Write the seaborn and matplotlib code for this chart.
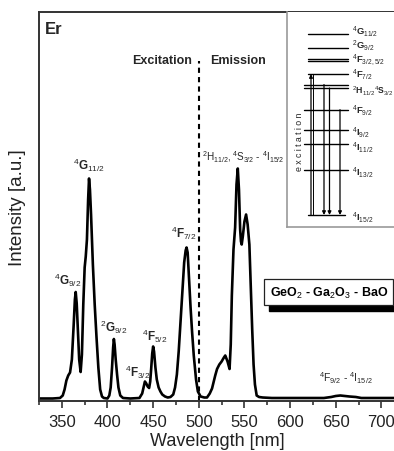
import numpy as np
import pandas as pd
import matplotlib
matplotlib.use('Agg')
import matplotlib.pyplot as plt
import seaborn as sns
from matplotlib import transforms

# ---- spectrum ----
wavelength = [325, 340, 348, 351, 353, 355, 357, 359, 361, 363, 364.3, 365.2, 366.3, 367.5, 369, 370.6,
              372, 373.5, 375, 376.2, 377.5, 378.8, 379.8, 380.8, 382, 384, 386, 388, 390, 392, 394, 396,
              400, 402, 403.5, 405, 406.2, 407, 407.8, 409, 410.5, 412, 414, 417, 425, 435, 438, 440,
              441, 442.5, 444, 445.6, 446.8, 447.8, 449, 450, 451, 452.5, 454, 456, 458, 460, 463, 466,
              469, 472, 474, 476, 478, 480, 482, 484, 485.6, 486.6, 487.8, 489.5, 491, 492.7, 494.5, 497,
              499, 502, 506, 509, 512, 514.5, 518, 520, 522.5, 525, 527.5, 529, 531.5, 533.7, 535, 536.2,
              538, 539.8, 541.3, 542.7, 544, 545.3, 546.2, 547, 548.2, 550, 551.8, 553.5, 555.4, 557,
              558.5, 560, 561.5, 563.4, 566, 570, 580, 600, 620, 637, 645, 650, 655, 660, 665, 672, 678,
              690, 700, 715]
intensity = [1, 1, 1.5, 4, 10, 19, 24, 27, 40, 75, 100, 107.5, 96, 70, 40, 27.5,
             45, 95, 132, 143, 160, 200, 221, 210, 185, 135, 95, 62, 32, 10, 3, 1.5,
             1, 4, 12, 32, 52, 60.5, 55, 40, 25, 12, 4, 1.5, 1, 1.5, 6, 14,
             18, 16, 13, 11.5, 18, 30, 46, 53, 48, 32, 20, 12, 8, 5, 3, 2,
             2.5, 5, 12, 25, 48, 78, 108, 137, 149, 152, 147, 118, 92, 67, 44, 20,
             8, 3, 2, 2, 6, 11, 24, 30.5, 35, 38, 42, 44, 38, 30.5, 55, 104,
             150, 172, 215, 231, 210, 170, 158, 155, 163, 178, 185, 175, 155, 110,
             70, 35, 15, 4, 2.5, 2, 1.5, 1.5, 1.5, 1.5, 2.5, 3.5, 4, 3.5, 3, 2.5, 1.5,
             1.5, 1.5, 1.5]

xticks_major = [350, 400, 450, 500, 550, 600, 650, 700]
xticks_minor = [325, 375, 425, 475, 525, 575, 625, 675]

# ---- energy levels of Er3+ (10^3 cm^-1) ----
level_names = ['4I15/2', '4I13/2', '4I11/2', '4I9/2', '4F9/2', '4S3/2', '2H11/2',
               '4F7/2', '4F5/2', '4F3/2', '2G9/2', '4G11/2']
level_energy = [0.0, 6.5, 10.2, 12.2, 15.1, 18.2, 18.7, 20.2, 22.1, 22.4, 23.9, 26.0]
level_labels = [r'$^{4}\mathbf{I}_{15/2}$', r'$^{4}\mathbf{I}_{13/2}$', r'$^{4}\mathbf{I}_{11/2}$',
                r'$^{4}\mathbf{I}_{9/2}$', r'$^{4}\mathbf{F}_{9/2}$',
                r'$^{2}\mathbf{H}_{11/2}{}^{4}\mathbf{S}_{3/2}$', r'$^{4}\mathbf{F}_{7/2}$',
                r'$^{4}\mathbf{F}_{3/2,5/2}$', r'$^{2}\mathbf{G}_{9/2}$', r'$^{4}\mathbf{G}_{11/2}$']
level_label_energy = [-0.3, 6.2, 9.8, 11.9, 15.1, 17.8, 20.2, 22.3, 24.4, 26.4]

df = pd.DataFrame({'Wavelength': wavelength, 'Intensity': intensity})

sns.set_theme(style='ticks')
plt.rcParams['font.family'] = ['Liberation Sans', 'DejaVu Sans']
plt.rcParams['mathtext.fontset'] = 'custom'
plt.rcParams['mathtext.rm'] = 'Liberation Sans'
plt.rcParams['mathtext.bf'] = 'Liberation Sans:bold'
plt.rcParams['mathtext.it'] = 'Liberation Sans:italic'
plt.rcParams['mathtext.sf'] = 'Liberation Sans'

W, H = 394, 452
fig = plt.figure(figsize=(W / 100, H / 100), dpi=100)
ax_l, ax_b, ax_t = 39, 401.5, 13
ax = fig.add_axes([ax_l / W, (H - ax_b) / H, 356.1 / W, (ax_b - ax_t) / H])

sns.lineplot(data=df, x='Wavelength', y='Intensity', ax=ax, color='black', lw=1.9,
             estimator=None, sort=False)

ax.set_xlim(325, 715)
ax.set_ylim(-1, 387.5)
ax.set_yticks([])
ax.set_xticks(xticks_major)
ax.set_xticks(xticks_minor, minor=True)
ax.tick_params(axis='x', which='major', direction='out', length=5, width=1.2,
               labelsize=12, colors='#333', labelcolor='#222', pad=5)
ax.tick_params(axis='x', which='minor', direction='out', length=3, width=1.2, colors='#333')
for s in ['left', 'bottom', 'top']:
    ax.spines[s].set_color('#333')
    ax.spines[s].set_linewidth(1.4)
ax.spines['right'].set_visible(False)
ax.set_xlabel('Wavelength [nm]', fontsize=13, color='#222', labelpad=2)
ax.set_ylabel('Intensity [a.u.]', fontsize=13.5, color='#222', labelpad=9)

# dashed separator
ax.plot([500, 500], [-1, 338.5], ls=(0, (2.5, 2)), color='black', lw=1.5)

ax.text(331.7, 370.5, 'Er', fontsize=12, fontweight='bold', ha='left', va='center')
ax.text(492.7, 339.5, 'Excitation', fontsize=9, fontweight='bold', ha='right', va='center')
ax.text(512.4, 339.5, 'Emission', fontsize=9, fontweight='bold', ha='left', va='center')

pk = dict(fontsize=8.5, ha='center', va='center')
ax.text(379.9, 235.5, r'$^{4}\mathbf{G}_{11/2}$', **pk)
ax.text(356.4, 120.5, r'$^{4}\mathbf{G}_{9/2}$', **pk)
ax.text(406.7, 73.5, r'$^{2}\mathbf{G}_{9/2}$', **pk)
ax.text(433.6, 28.5, r'$^{4}\mathbf{F}_{3/2}$', **pk)
ax.text(452.2, 64.5, r'$^{4}\mathbf{F}_{5/2}$', **pk)
ax.text(484.0, 167.5, r'$^{4}\mathbf{F}_{7/2}$', **pk)
ax.text(549.2, 243.5, r'$^{2}\mathrm{H}_{11/2},{}^{4}\mathrm{S}_{3/2}$ - $^{4}\mathrm{I}_{15/2}$',
        fontsize=7.2, ha='center', va='center')
ax.text(661.4, 22.5, r'$^{4}\mathrm{F}_{9/2}$ - $^{4}\mathrm{I}_{15/2}$',
        fontsize=7.5, ha='center', va='center')

# glass composition box with shadow
comp = r'GeO$_2$ - Ga$_2$O$_3$ - BaO'
shadow_tr = transforms.offset_copy(ax.transData, fig=fig, x=5, y=-6, units='dots')
ax.text(642.2, 107.5, comp, fontsize=9, fontweight='bold', ha='center', va='center',
        color='black', transform=shadow_tr, zorder=4,
        bbox=dict(boxstyle='square,pad=0.45', fc='black', ec='black', lw=1))
ax.text(642.2, 107.5, comp, fontsize=9, fontweight='bold', ha='center', va='center',
        color='black', zorder=5,
        bbox=dict(boxstyle='square,pad=0.45', fc='white', ec='#222', lw=0.9))

# ---- inset energy-level diagram ----
in_l, in_r, in_t, in_b = 287, 398, 13, 228
ins = fig.add_axes([in_l / W, (H - in_b) / H, (in_r - in_l) / W, (in_b - in_t) / H])
ins.set_xlim(0, in_r - in_l)
ins.set_ylim(-1.72, 29.1)
ins.set_xticks([])
ins.set_yticks([])
ins.set_facecolor('white')
for s in ['top', 'right']:
    ins.spines[s].set_visible(False)
for s in ['left', 'bottom']:
    ins.spines[s].set_color('#999')
    ins.spines[s].set_linewidth(1.2)

E = dict(zip(level_names, level_energy))
upper = ['4G11/2', '2G9/2', '4F3/2', '4F5/2', '4F7/2']
for name in level_names:
    if name == '4I15/2':
        x0, x1 = 21, 58
    elif name in upper:
        x0, x1 = 21, 61
    else:
        x0, x1 = 17, 61
    ins.plot([x0, x1], [E[name], E[name]], color='black', lw=1.0)

arrow_kw = dict(arrowstyle='-|>', lw=0.9, color='black', mutation_scale=5, shrinkA=0, shrinkB=0)
ins.annotate('', xy=(24, E['4F7/2']), xytext=(24, E['4I15/2']), arrowprops=arrow_kw)
ins.plot([26, 26], [E['4I15/2'], E['4F7/2']], color='black', lw=0.7)
for xx, nm in [(37, '2H11/2'), (42.5, '4S3/2'), (53, '4F9/2')]:
    ins.annotate('', xy=(xx, E['4I15/2']), xytext=(xx, E[nm]), arrowprops=arrow_kw)

for lab, e in zip(level_labels, level_label_energy):
    fs = 6.2 if 'H' in lab else 6.8
    ins.text(65, e, lab, fontsize=fs, ha='left', va='center')

ins.text(12.5, 10.7, 'e x c i t a t i o n', rotation=90, fontsize=6.3, ha='center', va='center',
         color='#222')

fig.savefig('out.png', dpi=100)
